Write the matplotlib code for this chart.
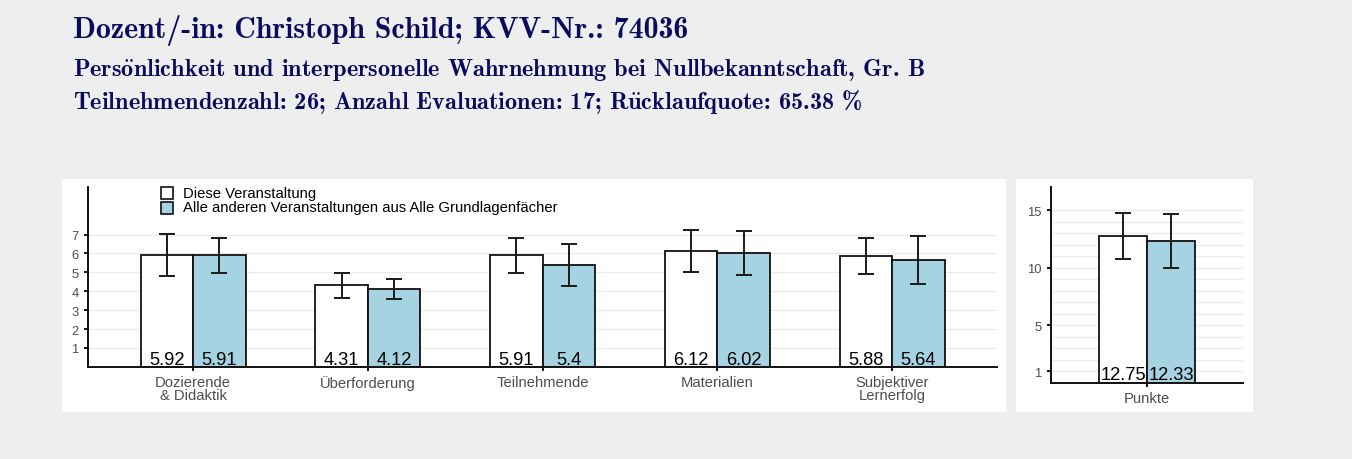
import matplotlib
matplotlib.use("Agg")
import matplotlib.pyplot as plt
from matplotlib.patches import Rectangle
import numpy as np


CATEGORIES = ["Dozierende\n& Didaktik", "Überforderung", "Teilnehmende", "Materialien", "Subjektiver\nLernerfolg"]
THIS_MEAN = [5.92, 4.31, 5.91, 6.12, 5.88]
THIS_ERR = [1.13, 0.67, 0.92, 1.10, 0.95]
OTHER_MEAN = [5.91, 4.12, 5.40, 6.02, 5.64]
OTHER_ERR = [0.92, 0.55, 1.12, 1.15, 1.26]

PUNKTE_LABEL = ["Punkte"]
PUNKTE_THIS = [12.75]
PUNKTE_THIS_ERR = [2.03]
PUNKTE_OTHER = [12.33]
PUNKTE_OTHER_ERR = [2.33]

LEGEND_LABELS = ["Diese Veranstaltung", "Alle anderen Veranstaltungen aus Alle Grundlagenfächer"]
TITLE = "Dozent/-in: Christoph Schild; KVV-Nr.: 74036"
# umlauts go through mathtext so they come out in Computer Modern too
SUBTITLE_1 = r"Pers$\ddot{\mathbf{o}}$nlichkeit und interpersonelle Wahrnehmung bei Nullbekanntschaft, Gr. B"
SUBTITLE_2 = r"Teilnehmendenzahl: 26; Anzahl Evaluationen: 17; R$\ddot{\mathbf{u}}$cklaufquote: 65.38 %"

BLUE = "#a6d3e2"
NAVY = "#0b0b5e"
TICK_GRAY = "#4d4d4d"
W, H = 1352, 460

plt.rcParams["font.family"] = ["Liberation Sans", "DejaVu Sans"]
plt.rcParams["mathtext.fontset"] = "cm"


def px_box(x0, y0, x1, y1):
    """pixel box (top-left origin) -> figure fraction rect"""
    return [x0 / W, 1 - y1 / H, (x1 - x0) / W, (y1 - y0) / H]


def draw_bars(ax, labels, m1, e1, m2, e2, ylim, grid_vals, tick_vals):
    x = np.arange(1, len(labels) + 1)
    bw = 0.3
    for gv in grid_vals:
        ax.axhline(gv, color="#ebebeb", lw=0.9, zorder=0)
    for off, means, errs, col in [(-bw / 2, m1, e1, "white"), (bw / 2, m2, e2, BLUE)]:
        ax.bar(x + off, means, width=bw, color=col, edgecolor="#111111", linewidth=1.3, zorder=2)
        ax.errorbar(x + off, means, yerr=errs, fmt="none", ecolor="#1a1a1a",
                    elinewidth=1.4, capsize=5.6, capthick=1.4, zorder=3)
        for xi, v in zip(x + off, means):
            ax.annotate(f"{v:g}", (xi, 0), xytext=(0, 2.2), textcoords="offset points",
                        ha="center", va="baseline", fontsize=13.2, color="black", zorder=4)
    ax.set_xlim(0.4, len(labels) + 0.6)
    ax.set_ylim(*ylim)
    ax.set_xticks(x)
    ax.set_xticklabels(labels, fontsize=10.6, color=TICK_GRAY, linespacing=0.95)
    ax.set_yticks(tick_vals)
    ax.tick_params(axis="y", labelsize=9.4, labelcolor=TICK_GRAY, length=2.8, width=1.3, pad=4.2)
    ax.tick_params(axis="x", length=2.8, width=1.3, pad=3)
    for s in ["top", "right"]:
        ax.spines[s].set_visible(False)
    for s in ["left", "bottom"]:
        ax.spines[s].set_linewidth(1.4)
        ax.spines[s].set_color("#111111")
    ax.set_facecolor("white")


fig = plt.figure(figsize=(W / 100, H / 100), dpi=100)
fig.patch.set_facecolor("#eeeeee")

# white panel boxes behind each plot
for box in [px_box(62, 180, 1006, 413), px_box(1016, 180, 1253, 413)]:
    fig.patches.append(Rectangle((box[0], box[1]), box[2], box[3], transform=fig.transFigure,
                                 facecolor="white", edgecolor="none", zorder=-5))

ax1 = fig.add_axes(px_box(88.3, 188.3, 997, 367.9))
draw_bars(ax1, CATEGORIES, THIS_MEAN, THIS_ERR, OTHER_MEAN, OTHER_ERR,
          (0, 9.5), range(1, 8), range(1, 8))

ax2 = fig.add_axes(px_box(1051, 188.3, 1243, 383.5))
draw_bars(ax2, PUNKTE_LABEL, PUNKTE_THIS, PUNKTE_THIS_ERR, PUNKTE_OTHER, PUNKTE_OTHER_ERR,
          (0, 17), range(1, 16), [1, 5, 10, 15])

# legend drawn by hand so the rows sit as tightly as in the original
ax_w, ax_h = 997 - 88.3, 367.9 - 188.3
for i, (lab, col) in enumerate(zip(LEGEND_LABELS, ["white", BLUE])):
    y_top = 188 + i * 14.5
    ax1.add_patch(Rectangle(((161 - 88.3) / ax_w, (367.9 - y_top - 12) / ax_h), 12 / ax_w, 12 / ax_h,
                            transform=ax1.transAxes, facecolor=col, edgecolor="#111111",
                            linewidth=1.2, clip_on=False, zorder=5))
    ax1.text((183 - 88.3) / ax_w, (367.9 - y_top - 6) / ax_h, lab, transform=ax1.transAxes,
             fontsize=10.7, va="center", ha="left", color="black")

title_font = ["cmb10", "DejaVu Serif"]
fig.text(73 / W, 1 - 38.3 / H, TITLE, fontsize=21.5, family=title_font, color=NAVY, va="baseline", ha="left")
fig.text(73 / W, 1 - 76 / H, SUBTITLE_1, fontsize=17.5, family=title_font, color=NAVY, va="baseline", ha="left")
fig.text(73 / W, 1 - 109.3 / H, SUBTITLE_2, fontsize=17.5, family=title_font, color=NAVY, va="baseline", ha="left")

fig.savefig("out.png", dpi=100, facecolor=fig.get_facecolor())
